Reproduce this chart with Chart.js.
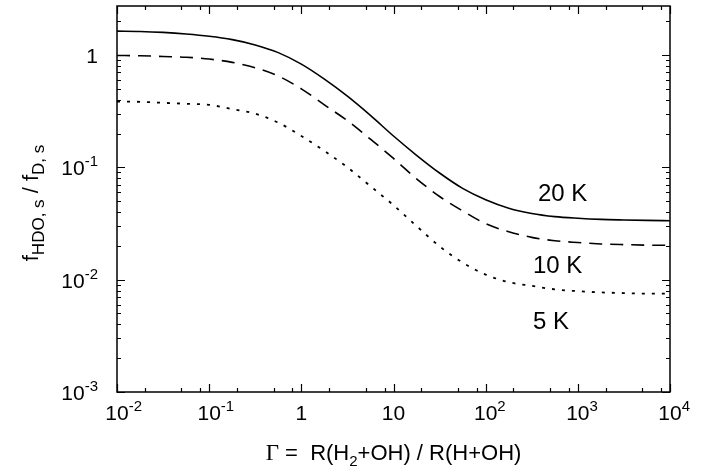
<!DOCTYPE html>
<html>
<head>
<meta charset="utf-8">
<script src="https://cdn.jsdelivr.net/npm/chart.js@4/dist/chart.umd.min.js"></script>
<style>
  html, body { margin: 0; padding: 0; background: #ffffff; }
  #wrap { width: 717px; height: 474px; }
</style>
</head>
<body>
<div id="wrap"><canvas id="c" width="717" height="474"></canvas></div>
<script>
// ---- data (quarter-decade steps in Gamma) ----
const gammaValues = [0.01, 0.0178, 0.0316, 0.0562, 0.1, 0.178, 0.316, 0.562, 1, 1.78, 3.16, 5.62, 10, 17.8, 31.6, 56.2, 100, 178, 316, 562, 1000, 1778, 3162, 5623, 10000];
const f20K = [1.63, 1.62, 1.59, 1.54, 1.47, 1.37, 1.23, 1.05, 0.83, 0.61, 0.43, 0.29, 0.19, 0.128, 0.089, 0.065, 0.0515, 0.0433, 0.0388, 0.0364, 0.0352, 0.0344, 0.0340, 0.0337, 0.0335];
const f10K = [0.99, 0.985, 0.97, 0.955, 0.92, 0.86, 0.77, 0.65, 0.50, 0.36, 0.26, 0.178, 0.120, 0.079, 0.055, 0.041, 0.0315, 0.0267, 0.0238, 0.0222, 0.0214, 0.0208, 0.0205, 0.0203, 0.0202];
const f5K  = [0.385, 0.383, 0.375, 0.368, 0.36, 0.33, 0.30, 0.25, 0.19, 0.14, 0.100, 0.068, 0.046, 0.030, 0.0198, 0.0142, 0.0111, 0.0095, 0.0088, 0.0082, 0.0079, 0.0077, 0.0076, 0.0075, 0.0075];
const seriesLabels = ['20 K', '10 K', '5 K'];

const xTickValues = [0.01, 0.1, 1, 10, 100, 1000, 10000];
const xTickLabels = ['10^-2', '10^-1', '1', '10', '10^2', '10^3', '10^4'];
const xMinorMultipliers = [2, 5, 8];
const yTickValues = [0.001, 0.01, 0.1, 1];
const yTickLabels = ['10^-3', '10^-2', '10^-1', '1'];
const yMinorMultipliers = [2, 3, 4, 5, 6, 7, 8, 9];
const xRange = [0.01, 10000];
const yRange = [0.001, 2.73];

const FONT = '"Liberation Sans", Arial, Helvetica, sans-serif';

function toPoints(ys) { return gammaValues.map((g, i) => ({ x: g, y: ys[i] })); }

function drawSupLabel(ctx, label, x, y, mode) {
  const parts = label.split('^');
  const base = parts[0], sup = parts[1] || '';
  ctx.font = '21px ' + FONT;
  const wb = ctx.measureText(base).width;
  ctx.font = '15px ' + FONT;
  const ws = sup ? ctx.measureText(sup).width : 0;
  let x0;
  if (mode === 'right') x0 = x - wb - ws;
  else x0 = x - wb / 2;
  ctx.textAlign = 'left';
  ctx.textBaseline = 'alphabetic';
  ctx.font = '21px ' + FONT;
  ctx.fillText(base, x0, y);
  if (sup) {
    ctx.font = '15px ' + FONT;
    ctx.fillText(sup, x0 + wb, y - 9);
  }
}

const framePlugin = {
  id: 'frame',
  afterDraw(chart) {
    const ctx = chart.ctx;
    const a = chart.chartArea;
    const xs = chart.scales.x, ys = chart.scales.y;
    ctx.save();
    ctx.fillStyle = '#000';
    ctx.strokeStyle = '#000';
    ctx.lineWidth = 1.5;
    ctx.strokeRect(a.left, a.top, a.right - a.left, a.bottom - a.top);
    ctx.lineWidth = 1.2;
    const MAJ = 8, MIN = 4;
    const xt = [];
    xTickValues.forEach(v => xt.push([v, MAJ]));
    for (let d = 0; d < xTickValues.length - 1; d++) {
      xMinorMultipliers.forEach(m => xt.push([xTickValues[d] * m, MIN]));
    }
    xt.forEach(([v, L]) => {
      const px = Math.round(xs.getPixelForValue(v)) + 0.5;
      ctx.beginPath();
      ctx.moveTo(px, a.bottom); ctx.lineTo(px, a.bottom - L);
      ctx.moveTo(px, a.top); ctx.lineTo(px, a.top + L);
      ctx.stroke();
    });
    const yt = [];
    yTickValues.forEach(v => yt.push([v, MAJ]));
    yTickValues.forEach(v => yMinorMultipliers.forEach(m => { if (v * m < yRange[1]) yt.push([v * m, MIN]); }));
    yt.forEach(([v, L]) => {
      const py = Math.round(ys.getPixelForValue(v)) + 0.5;
      ctx.beginPath();
      ctx.moveTo(a.left, py); ctx.lineTo(a.left + L, py);
      ctx.moveTo(a.right, py); ctx.lineTo(a.right - L, py);
      ctx.stroke();
    });
    xTickValues.forEach((v, i) => {
      drawSupLabel(ctx, xTickLabels[i], xs.getPixelForValue(v), a.bottom + 28, 'center-base');
    });
    yTickValues.forEach((v, i) => {
      drawSupLabel(ctx, yTickLabels[i], 98, ys.getPixelForValue(v) + 8, 'right');
    });
    // x title
    ctx.textBaseline = 'alphabetic';
    ctx.textAlign = 'left';
    const segs = [
      ['\u0393', '23px "Liberation Serif", "Times New Roman", serif', 0],
      [' =  R(H', '22px ' + FONT, 0],
      ['2', '15px ' + FONT, 6],
      ['+OH) / R(H+OH)', '22px ' + FONT, 0]
    ];
    let tw = 0;
    segs.forEach(s => { ctx.font = s[1]; tw += ctx.measureText(s[0]).width; });
    let tx = (a.left + a.right) / 2 - tw / 2;
    const tyBase = 460;
    segs.forEach(s => { ctx.font = s[1]; ctx.fillText(s[0], tx, tyBase + s[2]); tx += ctx.measureText(s[0]).width; });
    // y title (rotated)
    ctx.save();
    ctx.translate(38, (a.top + a.bottom) / 2 + 4);
    ctx.rotate(-Math.PI / 2);
    const ysegs = [
      ['f', '22px ' + FONT, 0],
      ['HDO, s', '17px ' + FONT, 6],
      [' / f', '22px ' + FONT, 0],
      ['D, s', '17px ' + FONT, 6]
    ];
    let yw = 0;
    ysegs.forEach(s => { ctx.font = s[1]; yw += ctx.measureText(s[0]).width; });
    let yx = -yw / 2;
    ysegs.forEach(s => { ctx.font = s[1]; ctx.fillText(s[0], yx, s[2]); yx += ctx.measureText(s[0]).width; });
    ctx.restore();
    // curve labels
    ctx.font = '24px ' + FONT;
    ctx.textAlign = 'left';
    ctx.textBaseline = 'middle';
    ctx.fillText(seriesLabels[0], 538, 194);
    ctx.fillText(seriesLabels[1], 533, 266);
    ctx.fillText(seriesLabels[2], 533, 322);
    ctx.restore();
  }
};

new Chart(document.getElementById('c'), {
  type: 'line',
  data: {
    datasets: [
      { label: seriesLabels[0], data: toPoints(f20K), borderColor: '#000', borderWidth: 1.6, pointRadius: 0, cubicInterpolationMode: 'monotone', fill: false },
      { label: seriesLabels[1], data: toPoints(f10K), borderColor: '#000', borderWidth: 1.6, borderDash: [13, 8], pointRadius: 0, cubicInterpolationMode: 'monotone', fill: false },
      { label: seriesLabels[2], data: toPoints(f5K), borderColor: '#000', borderWidth: 1.8, borderDash: [3, 7], pointRadius: 0, cubicInterpolationMode: 'monotone', fill: false }
    ]
  },
  options: {
    responsive: false,
    animation: false,
    events: [],
    layout: { padding: { left: 117, right: 47, top: 6, bottom: 82 } },
    plugins: { legend: { display: false }, tooltip: { enabled: false }, title: { display: false } },
    scales: {
      x: { type: 'logarithmic', min: xRange[0], max: xRange[1], display: false },
      y: { type: 'logarithmic', min: yRange[0], max: yRange[1], display: false }
    }
  },
  plugins: [framePlugin]
});
</script>
</body>
</html>
